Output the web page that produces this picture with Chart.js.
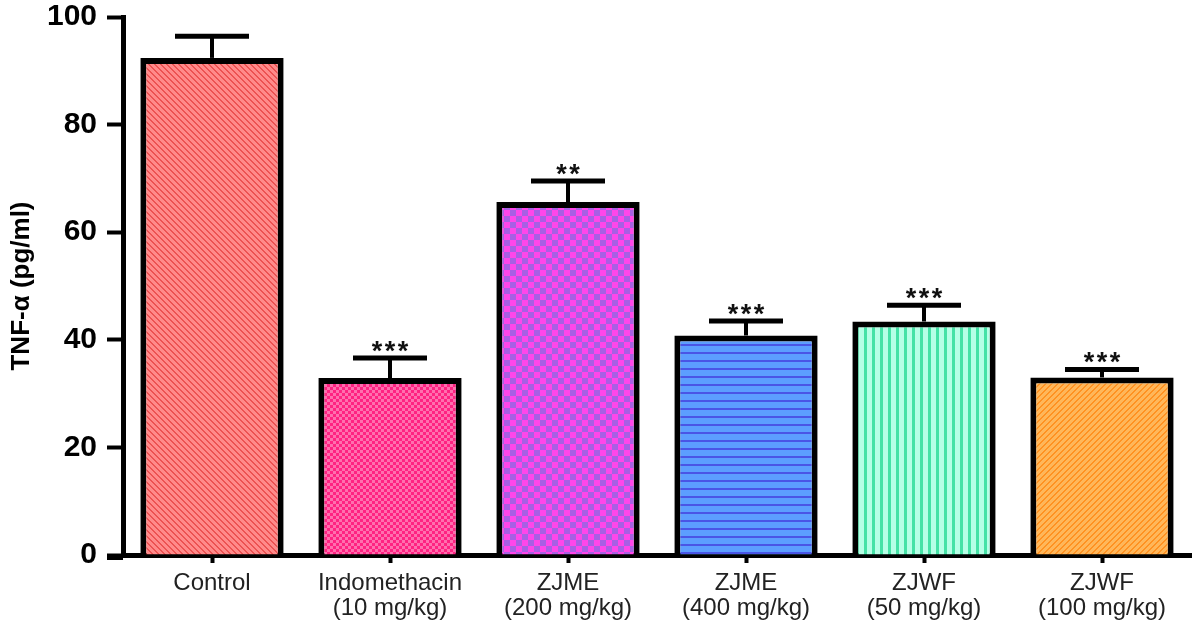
<!DOCTYPE html>
<html>
<head>
<meta charset="utf-8">
<script src="https://cdn.jsdelivr.net/npm/chart.js@4.4.1/dist/chart.umd.min.js"></script>
<style>
  html, body { margin: 0; padding: 0; background: #fff; }
  #wrap { width: 1200px; height: 628px; }
</style>
</head>
<body>
<div id="wrap"><canvas id="c" width="1200" height="628"></canvas></div>
<script>
// ---- data ----
const categories = [
  ["Control"],
  ["Indomethacin", "(10 mg/kg)"],
  ["ZJME", "(200 mg/kg)"],
  ["ZJME", "(400 mg/kg)"],
  ["ZJWF", "(50 mg/kg)"],
  ["ZJWF", "(100 mg/kg)"]
];
const meanValues = [92.4, 32.9, 65.6, 40.8, 43.4, 33.0];
const semValues  = [4.0, 3.7, 3.9, 2.7, 3.0, 1.5];
const significance = ["", "***", "**", "***", "***", "***"];
const yTicks = [0, 20, 40, 60, 80, 100];

// ---- patterns ----
function makePattern(kind, size, w, c1, c2) {
  const cv = document.createElement('canvas');
  cv.width = size; cv.height = size;
  const cx = cv.getContext('2d');
  cx.fillStyle = c1; cx.fillRect(0, 0, size, size);
  cx.fillStyle = c2;
  for (let y = 0; y < size; y++) {
    for (let x = 0; x < size; x++) {
      let on = false;
      if (kind === 'back') on = (((x - y) % size) + size) % size < w;
      else if (kind === 'fwd') on = ((x + y) % size) < w;
      else if (kind === 'horiz') on = (y % size) < w;
      else if (kind === 'vert') on = (x % size) < w;
      else if (kind === 'check') on = ((Math.floor(x / w) + Math.floor(y / w)) % 2) === 0;
      if (on) cx.fillRect(x, y, 1, 1);
    }
  }
  return document.getElementById('c').getContext('2d').createPattern(cv, 'repeat');
}
const fills = [
  makePattern('back', 6, 2, '#ff8a8a', '#ec5252'),
  makePattern('check', 6, 3, '#ff2282', '#ff6fae'),
  makePattern('check', 12, 6, '#ff46ea', '#a85fe4'),
  makePattern('horiz', 8, 2, '#5c9eff', '#4a55e6'),
  makePattern('vert', 8, 3, '#b6ffe6', '#45e2a6'),
  makePattern('fwd', 6, 2, '#ffb75a', '#ff9222')
];

// ---- error bars + significance plugin ----
const errorBarPlugin = {
  id: 'errorBars',
  afterDatasetsDraw(chart) {
    const ctx = chart.ctx;
    const meta = chart.getDatasetMeta(0);
    const ys = chart.scales.y;
    ctx.save();
    ctx.strokeStyle = '#000';
    ctx.lineCap = 'butt';
    meta.data.forEach((bar, i) => {
      const x = bar.x;
      const yTop = ys.getPixelForValue(meanValues[i] + semValues[i]);
      const yBar = bar.y;
      ctx.lineWidth = 4;
      ctx.beginPath();
      ctx.moveTo(x, yBar);
      ctx.lineTo(x, yTop);
      ctx.stroke();
      ctx.lineWidth = 5;
      ctx.beginPath();
      ctx.moveTo(x - 37, yTop);
      ctx.lineTo(x + 37, yTop);
      ctx.stroke();
      const s = significance[i];
      if (s) {
        ctx.fillStyle = '#111';
        ctx.font = 'bold 27px "Liberation Sans", Arial, sans-serif';
        ctx.textAlign = 'center';
        ctx.textBaseline = 'alphabetic';
        const n = s.length, step = 13;
        for (let k = 0; k < n; k++) {
          ctx.fillText('*', x + (k - (n - 1) / 2) * step, yTop + 2);
        }
      }
    });
    // extend x axis line to the left of the y axis
    const xa = chart.scales.x;
    ctx.lineWidth = 5;
    ctx.beginPath();
    ctx.moveTo(chart.chartArea.left - 16, xa.top + 2.5);
    ctx.lineTo(chart.chartArea.left, xa.top + 2.5);
    ctx.stroke();
    ctx.restore();
  }
};

new Chart(document.getElementById('c'), {
  type: 'bar',
  data: {
    labels: categories,
    datasets: [{
      data: meanValues,
      backgroundColor: fills,
      borderColor: '#000',
      borderWidth: 6,
      borderSkipped: 'start',
      categoryPercentage: 1.0,
      barPercentage: 0.805
    }]
  },
  options: {
    responsive: false,
    animation: false,
    devicePixelRatio: 1,
    layout: { padding: { left: 6, right: 9, top: 17, bottom: 0 } },
    plugins: {
      legend: { display: false },
      tooltip: { enabled: false }
    },
    scales: {
      x: {
        grid: {
          display: true,
          drawOnChartArea: false,
          drawTicks: true,
          offset: false,
          tickLength: 8,
          tickWidth: 4,
          tickColor: '#000'
        },
        border: { display: true, color: '#000', width: 5 },
        ticks: {
          color: '#222',
          padding: 8,
          maxRotation: 0,
          autoSkip: false,
          font: { family: '"Liberation Sans", Arial, sans-serif', size: 24, lineHeight: 1.05 }
        },
        afterFit(scale) { scale.height = 73; scale.paddingLeft = 0; scale.paddingRight = 0; }
      },
      y: {
        min: 0,
        max: 100,
        afterBuildTicks(scale) { scale.ticks = yTicks.map(v => ({ value: v })); },
        grid: {
          display: true,
          drawOnChartArea: false,
          drawTicks: true,
          tickLength: 16,
          tickWidth: 4,
          tickColor: '#000'
        },
        border: { display: true, color: '#000', width: 5 },
        ticks: {
          color: '#000',
          padding: 10,
          font: { family: '"Liberation Sans", Arial, sans-serif', size: 30, weight: 'bold' }
        },
        title: {
          display: true,
          text: 'TNF-α (pg/ml)',
          color: '#000',
          padding: { top: 0, bottom: 0 },
          font: { family: '"Liberation Sans", Arial, sans-serif', size: 26, weight: 'bold' }
        },
        afterFit(scale) { scale.width = 117; scale.paddingTop = 0; scale.paddingBottom = 0; }
      }
    }
  },
  plugins: [errorBarPlugin]
});
</script>
</body>
</html>
